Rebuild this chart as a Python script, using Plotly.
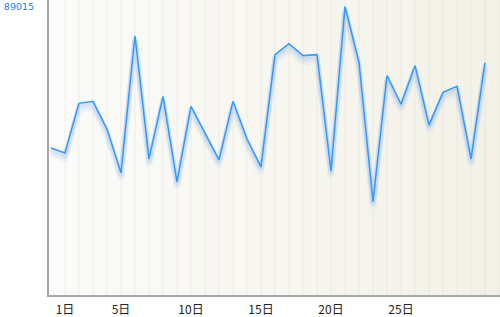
import plotly.graph_objects as go

days = list(range(0, 32))
values = [45350, 43818, 59139, 59752, 51172, 37690, 79976, 41980, 61284, 34932,
          58220, 49946, 41673, 59752, 48108, 39529, 74154, 77525, 73848, 74154,
          38303, 89015, 71703, 28804, 67720, 58833, 70784, 52398, 62510, 64349,
          41980, 71703]
tick_days = [1, 5, 10, 15, 20, 25]
tick_labels = ["1日", "5日", "10日", "15日", "20日", "25日"]
y_max_label = 89015

y_top = 91007
x_range = [-0.14, 32.07]

fig = go.Figure()

# invisible base trace to anchor the main axes
fig.add_trace(go.Scatter(x=days, y=values, mode="lines", line=dict(width=0, color="rgba(0,0,0,0)"),
                         hoverinfo="skip", showlegend=False))

# shadow traces on shifted overlay axes (pixel offset via range shift)
px_per_unit = y_top / 297.0
shadow = [(7, 6, 0.05), (5, 6, 0.08), (3, 5, 0.11), (1.5, 4, 0.13)]
k = 2
for off, w, a in shadow:
    ax = "y%d" % k
    fig.add_trace(go.Scatter(x=days, y=values, mode="lines", xaxis="x", yaxis=ax,
                             line=dict(color="rgba(110,165,235,%.2f)" % a, width=w),
                             hoverinfo="skip", showlegend=False))
    fig.update_layout(**{
        "yaxis%d" % k: dict(overlaying="y", range=[off * px_per_unit, y_top + off * px_per_unit],
                            visible=False, fixedrange=True)
    })
    k += 1

fig.add_trace(go.Scatter(x=days, y=values, mode="lines", xaxis="x", yaxis="y%d" % k,
                         line=dict(color="#3399ff", width=1.5), showlegend=False))
fig.update_layout(**{"yaxis%d" % k: dict(overlaying="y", range=[0, y_top], visible=False, fixedrange=True)})

# background gradient bands
shapes = []
n = 40
c0 = (251, 251, 249)
c1 = (243, 241, 231)
for i in range(n):
    t = i / (n - 1)
    col = tuple(int(round(c0[j] + (c1[j] - c0[j]) * t)) for j in range(3))
    shapes.append(dict(type="rect", xref="paper", yref="paper", x0=i / n, x1=(i + 1) / n + 0.002,
                       y0=0, y1=1, fillcolor="rgb(%d,%d,%d)" % col, line=dict(width=0), layer="below"))

fig.update_layout(
    width=500, height=317,
    margin=dict(l=49, r=0, t=0, b=20),
    paper_bgcolor="white",
    plot_bgcolor="rgba(0,0,0,0)",
    shapes=shapes,
    xaxis=dict(range=x_range, tickmode="array", tickvals=tick_days, ticktext=tick_labels,
               showgrid=False, zeroline=False, showline=True, linecolor="#a8a8a8", linewidth=2,
               tickfont=dict(family="Noto Sans CJK JP", size=12, color="#222"),
               ticks="", ticklabelstandoff=3, fixedrange=True),
    yaxis=dict(range=[0, y_top], tickmode="array", tickvals=[y_max_label], ticktext=[str(y_max_label)],
               showgrid=False, zeroline=False, showline=True, linecolor="#a8a8a8", linewidth=2,
               tickfont=dict(family="DejaVu Sans", size=9.5, color="#1a80f0"),
               ticks="", ticklabelstandoff=11, fixedrange=True),
)

# vertical grid lines at each day
for d in range(1, 33):
    fig.add_shape(type="line", xref="x", yref="paper", x0=d, x1=d, y0=-0.01, y1=1,
                  line=dict(color="rgba(215,215,205,0.35)", width=1), layer="below")

fig.write_html("out.html")
